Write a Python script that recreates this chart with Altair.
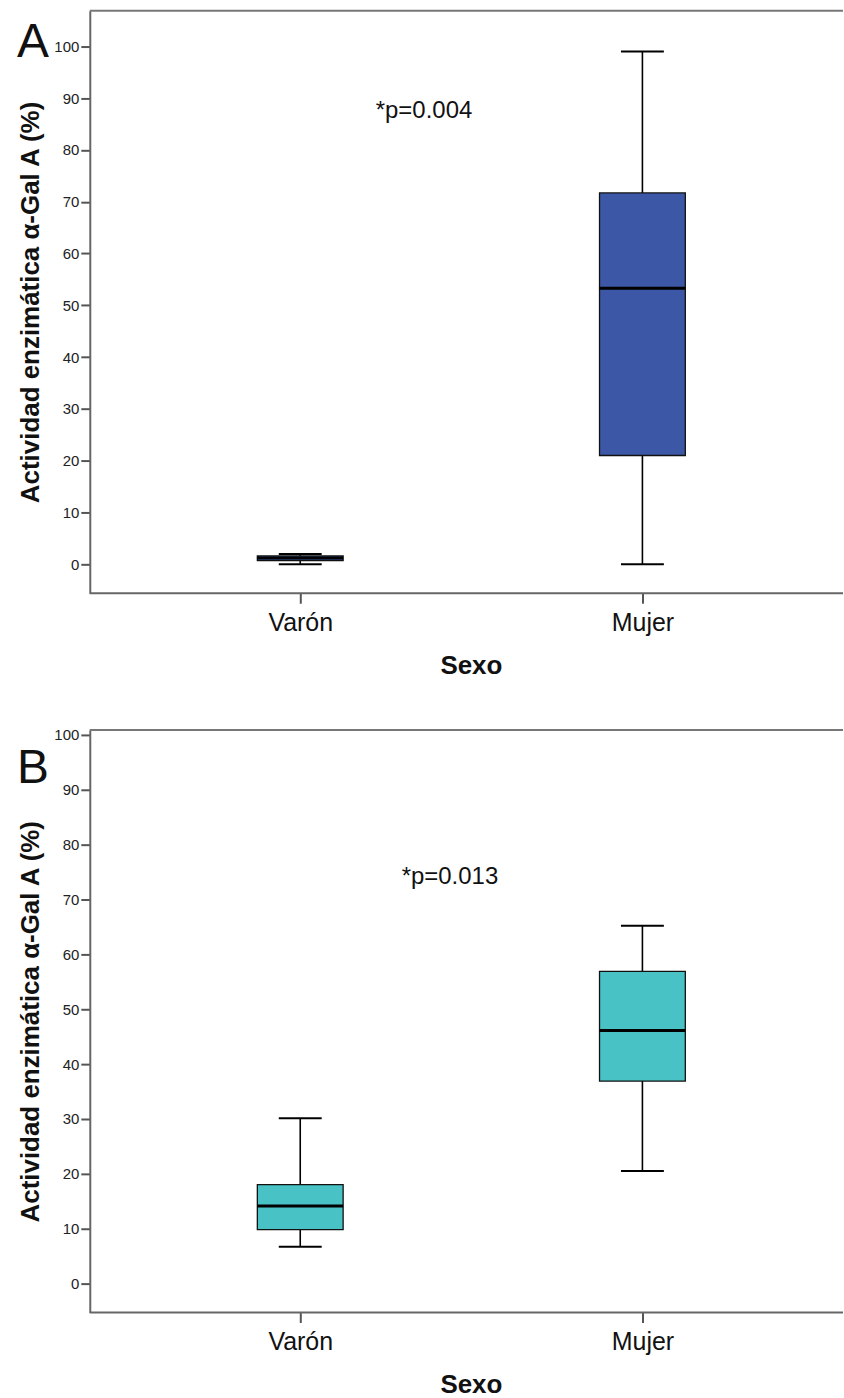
import altair as alt
import pandas as pd

categories = ["Varón", "Mujer"]

# Panel A (five-number summaries)
a_low = [0.0, 0.0]
a_q1 = [0.7, 21.0]
a_med = [1.2, 53.3]
a_q3 = [1.6, 71.7]
a_high = [2.0, 99.0]

# Panel B
b_low = [6.7, 20.5]
b_q1 = [9.8, 36.9]
b_med = [14.1, 46.1]
b_q3 = [18.0, 56.9]
b_high = [30.1, 65.2]

y_ticks = list(range(0, 101, 10))
p_texts = ["*p=0.004", "*p=0.013"]
p_y = [87.5, 74.0]
letters = ["A", "B"]
fills = ["#3D57A7", "#48C2C5"]
y_domains = [[-5.6, 106.9], [-5.3, 100.9]]

FONT = "Liberation Sans"
W, H = 755, 584


def panel(low, q1, med, q3, high, fill, ydom, letter, ptxt, pyv, px, letter_y):
    df = pd.DataFrame({"Sexo": categories, "low": low, "q1": q1, "med": med,
                       "q3": q3, "high": high})
    xscale = alt.Scale(type="point", padding=0.6006, align=0.512)
    xaxis = alt.Axis(labelAngle=0, labelFont=FONT, labelFontSize=25, labelColor="#111",
                     tickSize=10, tickWidth=2, tickColor="#555", domain=False,
                     labelPadding=7, title="Sexo", titleFont=FONT,
                     titleFontSize=26, titleFontWeight="bold", titleColor="#111",
                     titleX=382, titleY=80, titleBaseline="alphabetic", titleAlign="center")
    yscale = alt.Scale(domain=ydom, nice=False, zero=False)
    yaxis = alt.Axis(values=y_ticks, labelFont=FONT, labelFontSize=15, labelColor="#222",
                     tickSize=9, tickWidth=2, tickColor="#555", domainColor="#666",
                     domainWidth=2, labelPadding=2, grid=False,
                     title="Actividad enzimática α-Gal A (%)", titleFont=FONT,
                     titleFontSize=26, titleFontWeight="bold", titleColor="#111",
                     titleX=-51, titleY=H / 2, titleAngle=270, titleBaseline="alphabetic",
                     titleAlign="center")

    def X():
        return alt.X("Sexo:N", sort=categories, scale=xscale, axis=xaxis)

    def Y(f):
        return alt.Y(f, scale=yscale, axis=yaxis)

    base = alt.Chart(df)
    one = pd.DataFrame({"k": [0]})

    top = alt.Chart(one).mark_rule(color="#777", strokeWidth=2).encode(
        x=alt.value(0), x2=alt.value(W), y=alt.value(0))
    bottom = alt.Chart(one).mark_rule(color="#666", strokeWidth=2).encode(
        x=alt.value(0), x2=alt.value(W), y=alt.value(H))
    whisk = base.mark_rule(color="black", strokeWidth=1.6).encode(
        x=X(), y=Y("low:Q"), y2="high:Q")
    box = base.mark_bar(size=86, fill=fill, stroke="#111", strokeWidth=1.3, opacity=1).encode(
        x=X(), y=Y("q1:Q"), y2="q3:Q")
    median = base.mark_tick(color="black", size=86, thickness=3, opacity=1).encode(
        x=X(), y=Y("med:Q"))
    cap_lo = base.mark_tick(color="black", size=43, thickness=2, opacity=1).encode(
        x=X(), y=Y("low:Q"))
    cap_hi = base.mark_tick(color="black", size=43, thickness=2, opacity=1).encode(
        x=X(), y=Y("high:Q"))
    ptext = alt.Chart(pd.DataFrame({"t": [ptxt], "v": [pyv]})).mark_text(
        font=FONT, fontSize=24, color="#111", align="center", baseline="middle").encode(
        text="t:N", x=alt.value(px), y=Y("v:Q"))
    let = alt.Chart(pd.DataFrame({"t": [letter]})).mark_text(
        font=FONT, fontSize=48, color="#111", align="center", baseline="alphabetic").encode(
        text="t:N", x=alt.value(-57), y=alt.value(letter_y))
    return alt.layer(top, bottom, whisk, box, median, cap_lo, cap_hi, ptext, let).properties(
        width=W, height=H)


pa = panel(a_low, a_q1, a_med, a_q3, a_high, fills[0], y_domains[0], letters[0],
           p_texts[0], p_y[0], 335, 46)
pb = panel(b_low, b_q1, b_med, b_q3, b_high, fills[1], y_domains[1], letters[1],
           p_texts[1], p_y[1], 361, 53)

chart = alt.vconcat(pa, pb, spacing=49).properties(
    padding={"left": 16, "top": 8, "right": 0, "bottom": 0},
    background="white",
).configure_view(stroke=None)

chart.save("out.html", embed_options={"renderer": "svg", "actions": False})
